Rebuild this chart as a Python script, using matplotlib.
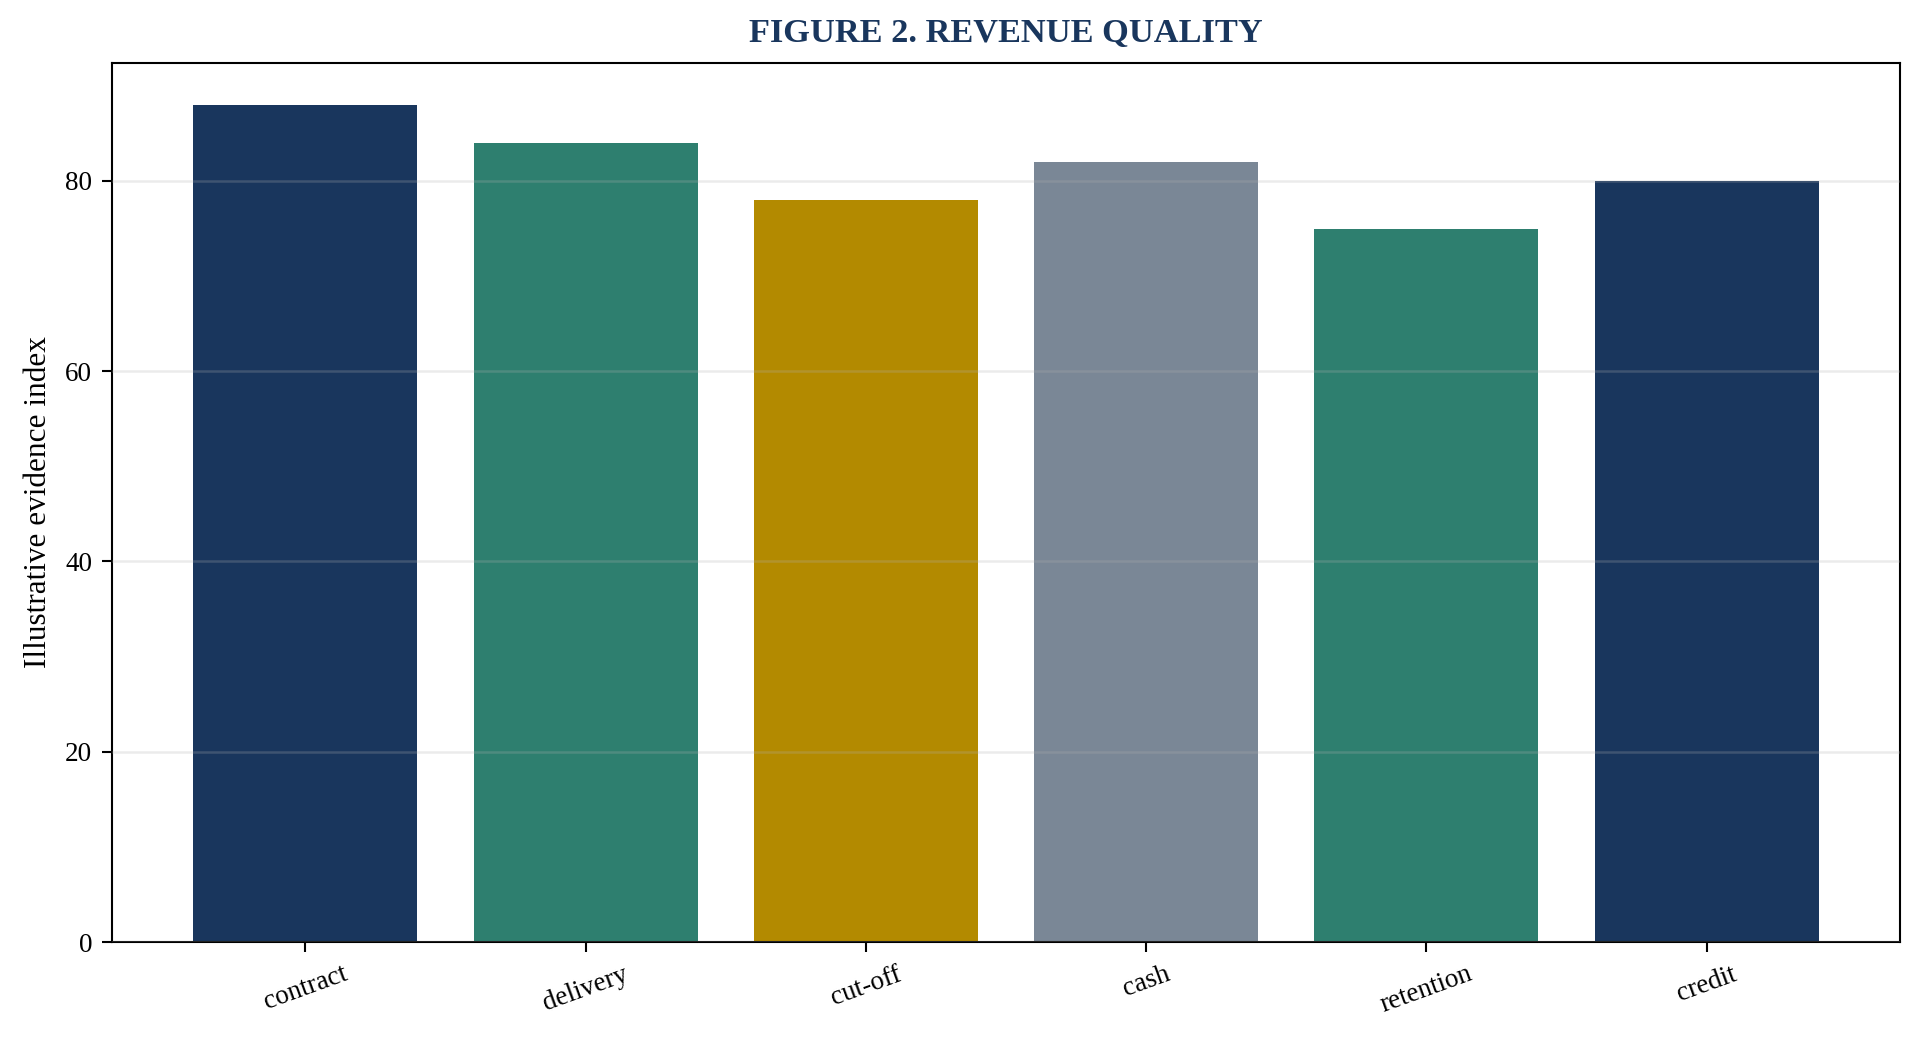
import matplotlib
matplotlib.use("Agg")
import matplotlib.pyplot as plt

categories = ["contract", "delivery", "cut-off", "cash", "retention", "credit"]
values = [88, 84, 78, 82, 75, 80]
colors = ["#19365D", "#2E7F6F", "#B38A00", "#7A8796", "#2E7F6F", "#19365D"]

plt.rcParams['font.family'] = ['Liberation Serif', 'DejaVu Serif']

fig, ax = plt.subplots(figsize=(19.24 / 1.5, 10.48 / 1.5), dpi=150)
ax.bar(categories, values, width=0.8, color=colors, zorder=1)

ax.set_ylim(0, max(values) * 1.05)
ax.set_ylabel("Illustrative evidence index", fontsize=15, labelpad=6)
ax.set_title("FIGURE 2. REVENUE QUALITY", fontsize=16.5, fontweight="bold",
             color="#19365D", pad=10)
ax.tick_params(axis="both", labelsize=13, length=5, width=1.0, pad=4.5)
plt.setp(ax.get_xticklabels(), rotation=20)
ax.yaxis.grid(True, color="#b0b0b0", alpha=0.25, linewidth=1.2, zorder=2)
ax.set_axisbelow(False)
for s in ax.spines.values():
    s.set_linewidth(1.0)

fig.subplots_adjust(left=112 / 1924, right=1900 / 1924, top=1 - 63 / 1048,
                    bottom=1 - 942 / 1048)
fig.savefig("out.png", dpi=150)
